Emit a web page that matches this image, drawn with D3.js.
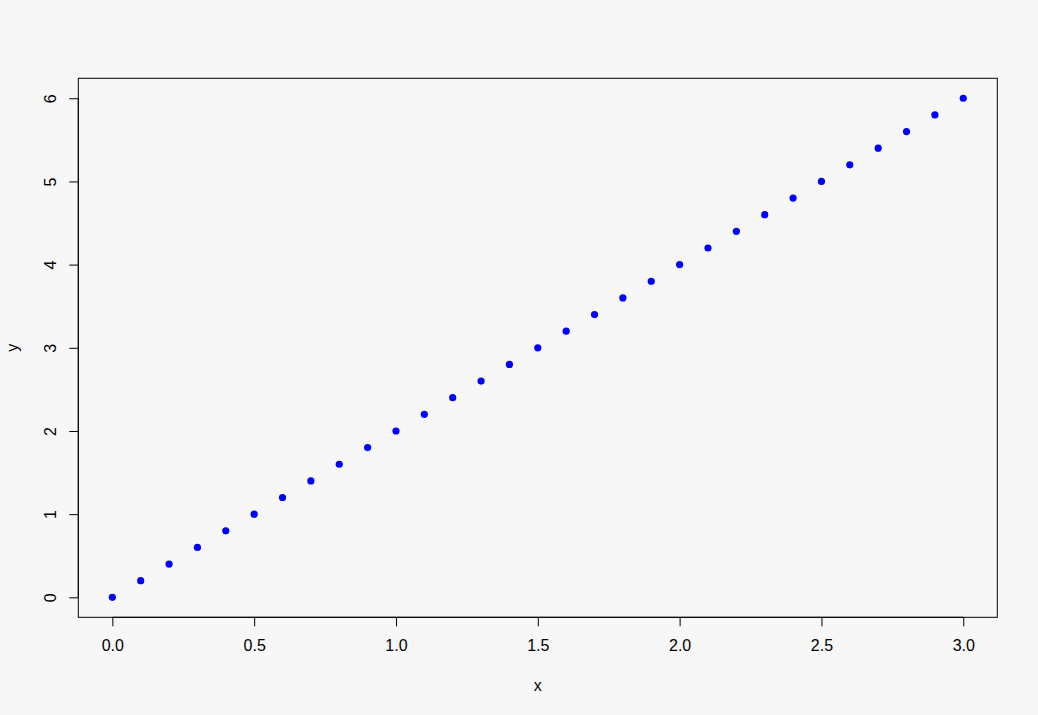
<!DOCTYPE html>
<html><head><meta charset="utf-8">
<script src="https://cdn.jsdelivr.net/npm/d3@7"></script>
<style>
html,body{margin:0;padding:0;background:#f7f7f7;}
svg{display:block;font-family:"Liberation Sans",Arial,sans-serif;}
</style></head>
<body>
<svg id="chart" width="1038" height="715"></svg>
<script>
const xValues = [0.0,0.1,0.2,0.3,0.4,0.5,0.6,0.7,0.8,0.9,1.0,1.1,1.2,1.3,1.4,1.5,1.6,1.7,1.8,1.9,2.0,2.1,2.2,2.3,2.4,2.5,2.6,2.7,2.8,2.9,3.0];
const yValues = [0.0,0.2,0.4,0.6,0.8,1.0,1.2,1.4,1.6,1.8,2.0,2.2,2.4,2.6,2.8,3.0,3.2,3.4,3.6,3.8,4.0,4.2,4.4,4.6,4.8,5.0,5.2,5.4,5.6,5.8,6.0];
const xTicks = [0.0,0.5,1.0,1.5,2.0,2.5,3.0];
const yTicks = [0,1,2,3,4,5,6];
const xTitle = "x", yTitle = "y";

const svg = d3.select("#chart");
const L = 78.3, R = 997.3, T = 78.3, B = 617.3;
const x = d3.scaleLinear().domain([-0.12, 3.12]).range([L, R]);
const y = d3.scaleLinear().domain([-0.24, 6.24]).range([B, T]);

svg.append("rect").attr("x",0).attr("y",0).attr("width",1038).attr("height",715).attr("fill","#f7f7f7");

// box
svg.append("rect").attr("x",L).attr("y",T).attr("width",R-L).attr("height",B-T)
  .attr("fill","none").attr("stroke","#000").attr("stroke-width",1);

// x axis
const xa = svg.append("g").attr("transform",`translate(0,${B})`)
  .call(d3.axisBottom(x).tickValues(xTicks).tickFormat(d3.format(".1f")).tickSize(9).tickPadding(13));
xa.select(".domain").attr("d", `M${x(xTicks[0])},0H${x(xTicks[xTicks.length-1])}`);
xa.selectAll("text").attr("font-size",16).attr("font-family","Liberation Sans, Arial, sans-serif").attr("fill","#000");

// y axis
const ya = svg.append("g").attr("transform",`translate(${L},0)`)
  .call(d3.axisLeft(y).tickValues(yTicks).tickFormat(d3.format("d")).tickSize(9));
ya.select(".domain").attr("d", `M0,${y(yTicks[0])}V${y(yTicks[yTicks.length-1])}`);
ya.selectAll(".tick text").attr("x",null).attr("dy",null)
  .attr("transform","translate(-28,0) rotate(-90)")
  .attr("text-anchor","middle").attr("dominant-baseline","central")
  .attr("font-size",16).attr("font-family","Liberation Sans, Arial, sans-serif").attr("fill","#000");

// titles
svg.append("text").attr("x",(L+R)/2).attr("y",691).attr("text-anchor","middle")
  .attr("font-size",16).text(xTitle);
svg.append("text").attr("transform",`translate(18,${(T+B)/2}) rotate(-90)`).attr("text-anchor","middle")
  .attr("font-size",16).text(yTitle);

// points
svg.append("g").selectAll("circle").data(xValues.map((d,i)=>[d,yValues[i]])).join("circle")
  .attr("cx",d=>x(d[0])).attr("cy",d=>y(d[1])).attr("r",3.6).attr("fill","#0000ff");
</script>
</body></html>
